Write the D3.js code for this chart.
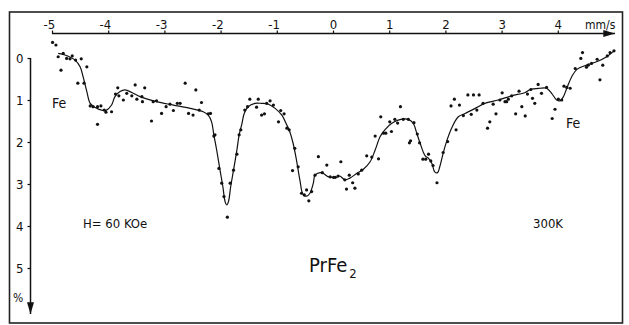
<!DOCTYPE html>
<html>
<head>
<meta charset="utf-8">
<script src="https://cdn.jsdelivr.net/npm/d3@7"></script>
<style>
  body { margin: 0; background: #fff; }
  svg text { font-family: "DejaVu Sans Condensed", "DejaVu Sans", sans-serif; fill: #111; }
</style>
</head>
<body>
<div id="chart"></div>
<script>
// velocity ticks (mm/s) and absorption ticks (%)
var velocityTicks = [-5, -4, -3, -2, -1, 0, 1, 2, 3, 4];
var absorptionTicks = [0, 1, 2, 3, 4, 5];

// fitted curve, [velocity, absorption %]
var fitCurve = [
  [-4.89,-0.11],[-4.77,-0.07],[-4.59,0.05],[-4.50,0.21],[-4.44,0.48],[-4.38,0.80],[-4.32,1.08],
  [-4.23,1.18],[-4.12,1.24],[-4.03,1.24],[-3.94,1.12],[-3.88,0.92],[-3.79,0.80],[-3.70,0.76],
  [-3.58,0.82],[-3.43,0.92],[-3.14,1.04],[-2.84,1.12],[-2.54,1.20],[-2.31,1.28],[-2.22,1.36],
  [-2.16,1.52],[-2.12,1.83],[-2.07,2.19],[-2.01,2.67],[-1.96,3.06],[-1.92,3.42],[-1.89,3.50],
  [-1.86,3.42],[-1.82,3.06],[-1.77,2.67],[-1.71,2.19],[-1.67,1.83],[-1.62,1.56],[-1.58,1.32],
  [-1.51,1.16],[-1.39,1.08],[-1.27,1.08],[-1.15,1.10],[-1.03,1.20],[-0.91,1.36],[-0.82,1.60],
  [-0.77,1.75],[-0.71,2.03],[-0.65,2.43],[-0.59,2.90],[-0.53,3.26],[-0.47,3.29],[-0.41,3.22],
  [-0.35,2.98],[-0.32,2.79],[-0.23,2.73],[-0.17,2.75],[-0.08,2.83],[0.07,2.84],[0.12,2.81],
  [0.21,2.90],[0.30,2.86],[0.42,2.75],[0.54,2.65],[0.66,2.47],[0.75,2.19],[0.84,1.87],
  [0.93,1.70],[1.04,1.56],[1.16,1.48],[1.25,1.45],[1.34,1.46],[1.43,1.56],[1.49,1.79],
  [1.55,2.03],[1.64,2.33],[1.70,2.39],[1.76,2.51],[1.81,2.71],[1.86,2.73],[1.90,2.59],
  [1.96,2.27],[2.02,1.99],[2.11,1.67],[2.23,1.40],[2.35,1.32],[2.53,1.20],[2.70,1.08],
  [2.94,1.00],[3.18,0.90],[3.42,0.82],[3.51,0.75],[3.68,0.72],[3.80,0.72],[3.89,0.84],
  [3.98,1.00],[4.04,1.02],[4.10,0.92],[4.16,0.72],[4.25,0.44],[4.34,0.27],[4.51,0.17],
  [4.69,0.09],[4.87,-0.03],[5.00,-0.17]
];

// measured points, [velocity, absorption %]
var measured = [
  [-4.99,-0.37],[-4.93,-0.31],[-4.89,-0.03],[-4.84,0.29],[-4.80,-0.11],[-4.74,0.01],[-4.68,0.02],
  [-4.64,-0.05],[-4.58,0.05],[-4.54,0.60],[-4.48,0.02],[-4.43,0.60],[-4.38,0.21],[-4.32,1.14],
  [-4.27,1.16],[-4.19,1.16],[-4.19,1.58],[-4.13,1.14],[-4.07,1.24],[-4.04,1.29],[-3.94,1.28],
  [-3.87,0.86],[-3.83,0.71],[-3.81,0.90],[-3.73,1.00],[-3.67,0.84],[-3.58,0.90],[-3.52,0.64],
  [-3.49,0.98],[-3.40,0.92],[-3.39,1.04],[-3.35,0.71],[-3.23,1.50],[-3.20,1.04],[-3.14,1.02],
  [-3.05,1.32],[-2.97,1.16],[-2.90,1.10],[-2.84,1.25],[-2.77,1.08],[-2.72,1.08],[-2.63,0.60],
  [-2.57,1.32],[-2.49,1.36],[-2.44,0.76],[-2.38,1.24],[-2.34,1.06],[-2.22,1.33],[-2.18,1.32],
  [-2.12,1.86],[-2.10,1.83],[-2.03,2.63],[-1.98,2.98],[-1.94,3.30],[-1.88,3.79],[-1.83,2.98],
  [-1.77,2.67],[-1.71,2.29],[-1.67,1.83],[-1.64,1.71],[-1.57,1.24],[-1.52,1.16],[-1.48,0.98],
  [-1.36,1.17],[-1.33,0.98],[-1.27,1.36],[-1.22,1.33],[-1.18,1.08],[-1.12,1.02],[-1.06,1.12],
  [-0.97,1.52],[-0.93,1.25],[-0.87,1.33],[-0.82,1.67],[-0.78,1.71],[-0.72,2.68],[-0.68,2.15],
  [-0.62,2.59],[-0.56,3.22],[-0.51,3.26],[-0.47,3.14],[-0.43,3.40],[-0.38,3.18],[-0.32,2.79],
  [-0.26,2.35],[-0.19,2.73],[-0.11,2.55],[-0.05,2.83],[0.01,2.84],[0.04,2.84],[0.09,2.81],
  [0.14,2.47],[0.21,2.90],[0.24,3.12],[0.29,2.79],[0.35,2.97],[0.39,3.10],[0.45,2.76],
  [0.51,2.67],[0.60,2.33],[0.69,2.36],[0.75,1.86],[0.81,2.40],[0.85,1.40],[0.90,1.79],
  [0.94,1.79],[1.01,1.52],[1.04,1.75],[1.10,1.46],[1.15,1.55],[1.20,1.16],[1.25,1.46],
  [1.34,1.46],[1.36,2.02],[1.38,1.97],[1.44,1.54],[1.50,1.81],[1.54,2.02],[1.60,2.41],
  [1.65,2.41],[1.70,2.29],[1.74,2.45],[1.78,2.56],[1.85,2.97],[1.96,2.25],[2.04,1.99],
  [2.10,1.14],[2.16,0.98],[2.19,1.71],[2.25,1.12],[2.32,1.37],[2.40,0.88],[2.46,1.34],
  [2.50,0.88],[2.56,1.24],[2.60,0.88],[2.67,1.08],[2.75,1.67],[2.79,1.52],[2.85,1.10],
  [2.90,1.33],[2.97,1.00],[3.01,0.83],[3.06,1.04],[3.09,1.04],[3.12,0.98],[3.18,0.90],
  [3.25,1.33],[3.31,0.79],[3.36,1.16],[3.42,1.38],[3.46,0.86],[3.52,0.75],[3.55,0.96],
  [3.59,1.08],[3.65,0.63],[3.71,0.84],[3.80,0.70],[3.90,1.44],[3.95,1.22],[4.01,0.98],
  [4.07,1.00],[4.11,0.67],[4.16,0.70],[4.22,0.72],[4.31,0.25],[4.41,0.01],[4.44,-0.13],
  [4.51,0.22],[4.54,0.17],[4.60,0.13],[4.70,0.03],[4.75,0.52],[4.80,0.17],[4.88,-0.05],
  [4.93,-0.13],[5.00,-0.17]
];

var width = 629, height = 325;

var svg = d3.select("#chart").append("svg")
    .attr("width", width)
    .attr("height", height);

// outer frame
svg.append("rect")
    .attr("x", 9.5).attr("y", 12)
    .attr("width", 613).attr("height", 311)
    .attr("fill", "none")
    .attr("stroke", "#222")
    .attr("stroke-width", 1.6);

var x = d3.scaleLinear().domain([-5, 5]).range([52, 614]);
var y = d3.scaleLinear().domain([0, 6]).range([58, 310]);

// arrow heads
var defs = svg.append("defs");
defs.append("marker")
    .attr("id", "arrow")
    .attr("viewBox", "0 0 10 6")
    .attr("refX", 10).attr("refY", 3)
    .attr("markerUnits", "userSpaceOnUse")
    .attr("markerWidth", 13).attr("markerHeight", 7)
    .attr("orient", "auto")
    .append("path")
    .attr("d", "M0,0 L10,3 L0,6 Z")
    .attr("fill", "#111");

// top velocity axis
var axisY = 33.5;
svg.append("line")
    .attr("x1", x(-5)).attr("x2", 615)
    .attr("y1", axisY).attr("y2", axisY)
    .attr("stroke", "#111").attr("stroke-width", 1.5)
    .attr("marker-end", "url(#arrow)");

var xAxis = d3.axisTop(x)
    .tickValues(velocityTicks)
    .tickSize(3)
    .tickPadding(2)
    .tickFormat(function (d) { return String(d); });

var gx = svg.append("g")
    .attr("transform", "translate(0," + axisY + ")")
    .call(xAxis);
gx.select(".domain").remove();
gx.selectAll("line").attr("stroke", "#111").attr("stroke-width", 1.2);
gx.selectAll("text")
    .attr("font-size", "13px")
    .attr("dx", function (d) { return d < 0 ? "-0.25em" : 0; });

svg.append("text")
    .attr("x", 585).attr("y", 29)
    .attr("font-size", "12px")
    .text("mm/s");

// left absorption axis
var axisX = 30.5;
svg.append("line")
    .attr("x1", axisX).attr("x2", axisX)
    .attr("y1", y(0)).attr("y2", 314)
    .attr("stroke", "#111").attr("stroke-width", 1.5)
    .attr("marker-end", "url(#arrow)");

var yAxis = d3.axisLeft(y)
    .tickValues(absorptionTicks)
    .tickSize(3)
    .tickPadding(4)
    .tickFormat(d3.format("d"));

var gy = svg.append("g")
    .attr("transform", "translate(" + axisX + ",0)")
    .call(yAxis);
gy.select(".domain").remove();
gy.selectAll("line").attr("stroke", "#111").attr("stroke-width", 1.2);
gy.selectAll("text").attr("font-size", "13px");

svg.append("text")
    .attr("x", 13).attr("y", 302)
    .attr("font-size", "12px")
    .text("%");

// fitted curve
var line = d3.line()
    .x(function (d) { return x(d[0]); })
    .y(function (d) { return y(d[1]); })
    .curve(d3.curveCatmullRom.alpha(0.5));

svg.append("path")
    .datum(fitCurve)
    .attr("d", line)
    .attr("fill", "none")
    .attr("stroke", "#111")
    .attr("stroke-width", 1.2);

// measured points
svg.selectAll("circle.pt")
    .data(measured)
    .enter().append("circle")
    .attr("class", "pt")
    .attr("cx", function (d) { return x(d[0]); })
    .attr("cy", function (d) { return y(d[1]); })
    .attr("r", 1.6)
    .attr("fill", "#111");

// annotations
svg.append("text").attr("x", 52).attr("y", 108).attr("font-size", "14px").text("Fe");
svg.append("text").attr("x", 566).attr("y", 128).attr("font-size", "14px").text("Fe");
svg.append("text").attr("x", 83).attr("y", 228).attr("font-size", "13px").text("H= 60 KOe");
svg.append("text").attr("x", 533).attr("y", 228).attr("font-size", "13px").text("300K");

var title = svg.append("text").attr("x", 309).attr("y", 272).attr("font-size", "20px");
title.append("tspan").text("PrFe");
title.append("tspan").attr("font-size", "13px").attr("dx", "2").attr("dy", "6").text("2");
</script>
</body>
</html>
